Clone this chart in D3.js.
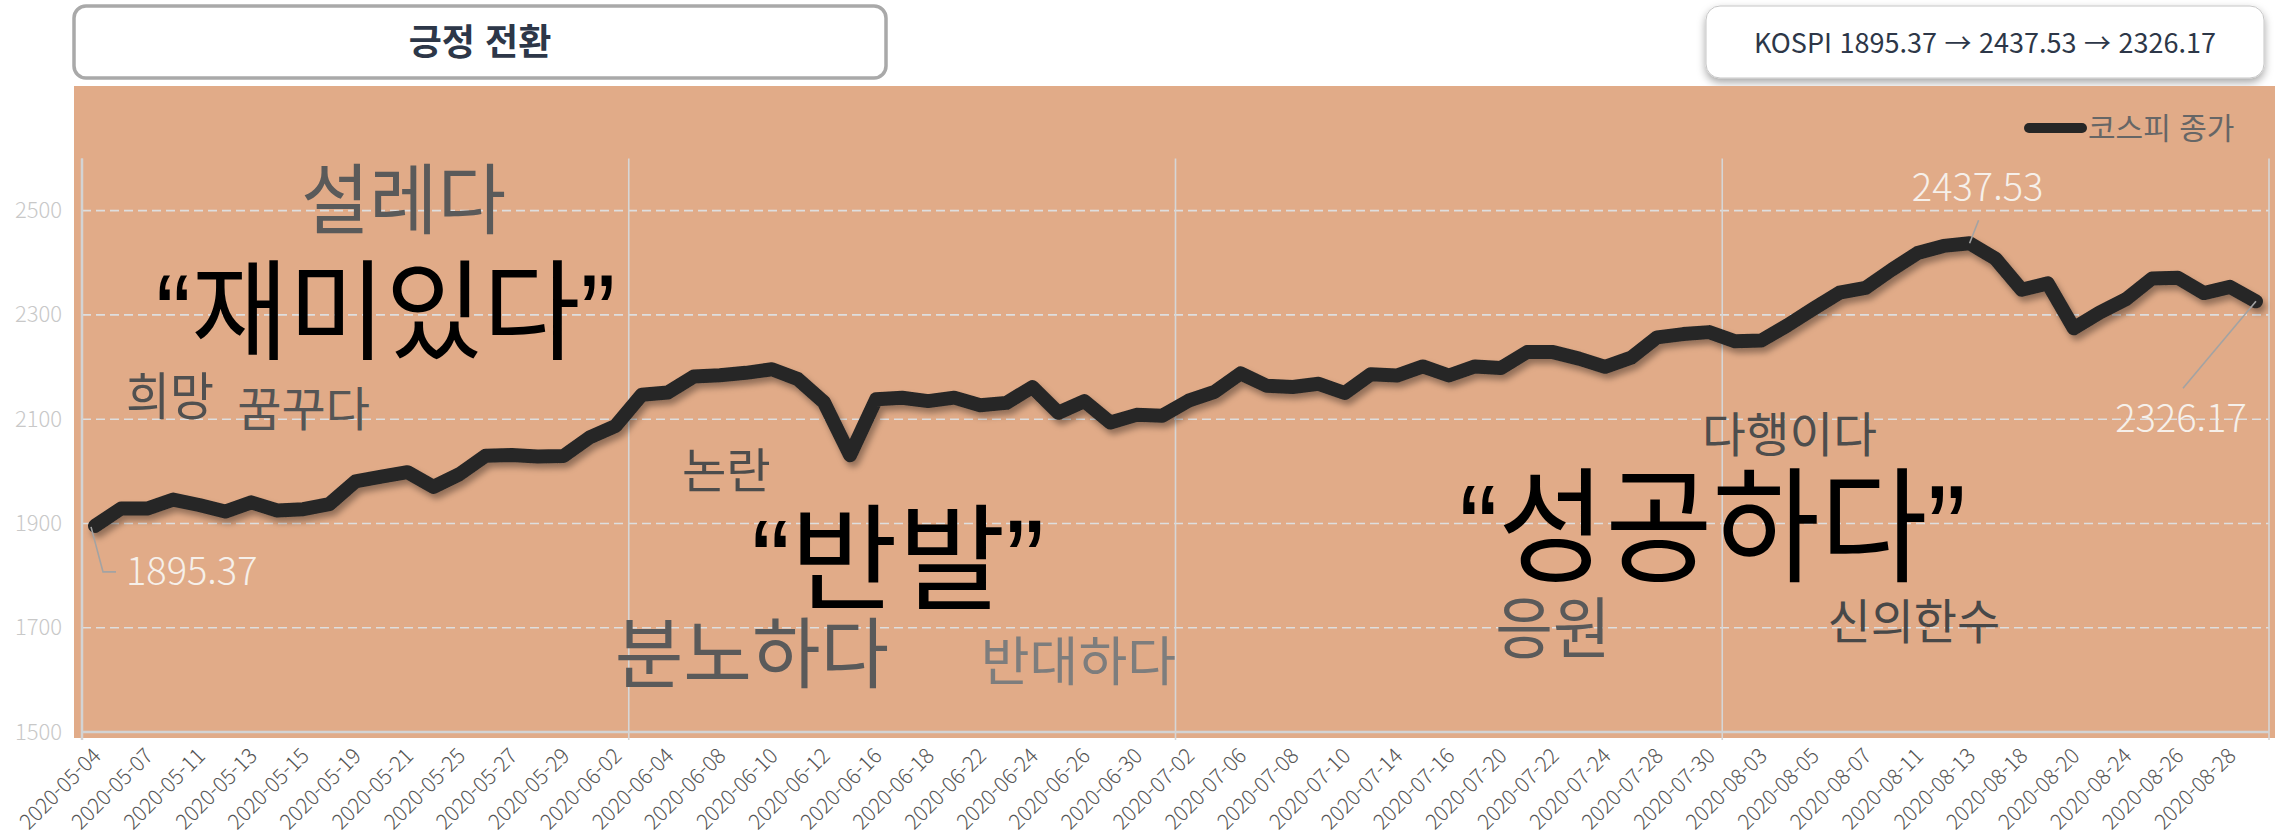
<!DOCTYPE html>
<html lang="ko">
<head>
<meta charset="utf-8">
<title>긍정 전환 - 코스피 종가</title>
<script src="https://cdn.jsdelivr.net/npm/d3@7"></script>
<style>
  html, body { margin: 0; padding: 0; background: #ffffff; }
  svg { display: block; }
</style>
</head>
<body>
<script>
// ---- Data ---------------------------------------------------------------
// KOSPI trading days, 2020-05-04 .. 2020-08-31
const dates = [
  '2020-05-04','2020-05-06','2020-05-07','2020-05-08','2020-05-11','2020-05-12','2020-05-13','2020-05-14','2020-05-15','2020-05-18',
  '2020-05-19','2020-05-20','2020-05-21','2020-05-22','2020-05-25','2020-05-26','2020-05-27','2020-05-28','2020-05-29',
  '2020-06-01','2020-06-02','2020-06-03','2020-06-04','2020-06-05','2020-06-08','2020-06-09','2020-06-10','2020-06-11','2020-06-12',
  '2020-06-15','2020-06-16','2020-06-17','2020-06-18','2020-06-19','2020-06-22','2020-06-23','2020-06-24','2020-06-25','2020-06-26',
  '2020-06-29','2020-06-30',
  '2020-07-01','2020-07-02','2020-07-03','2020-07-06','2020-07-07','2020-07-08','2020-07-09','2020-07-10','2020-07-13','2020-07-14',
  '2020-07-15','2020-07-16','2020-07-17','2020-07-20','2020-07-21','2020-07-22','2020-07-23','2020-07-24','2020-07-27','2020-07-28',
  '2020-07-29','2020-07-30','2020-07-31',
  '2020-08-03','2020-08-04','2020-08-05','2020-08-06','2020-08-07','2020-08-10','2020-08-11','2020-08-12','2020-08-13','2020-08-14',
  '2020-08-18','2020-08-19','2020-08-20','2020-08-21','2020-08-24','2020-08-25','2020-08-26','2020-08-27','2020-08-28','2020-08-31'
];

// KOSPI close
const closes = [
  1895.37, 1928.76, 1928.61, 1945.82, 1935.40, 1922.77, 1940.42, 1924.96, 1927.28, 1937.11,
  1980.61, 1989.64, 1998.31, 1970.13, 1994.60, 2029.78, 2031.20, 2028.54, 2029.60,
  2065.08, 2087.19, 2147.00, 2151.18, 2181.87, 2184.29, 2188.92, 2195.69, 2176.78, 2132.30,
  2030.82, 2138.05, 2141.05, 2134.65, 2141.32, 2126.73, 2131.24, 2161.51, 2112.37, 2134.65,
  2093.48, 2108.33,
  2106.70, 2135.37, 2152.41, 2187.93, 2164.17, 2161.78, 2167.90, 2150.25, 2186.06, 2183.61,
  2201.19, 2183.76, 2201.19, 2198.20, 2228.66, 2228.64, 2216.15, 2200.44, 2217.86, 2256.99,
  2263.24, 2267.01, 2249.37,
  2251.04, 2279.97, 2311.86, 2342.61, 2351.67, 2386.38, 2418.67, 2432.35, 2437.53, 2407.49,
  2348.24, 2360.54, 2274.22, 2304.59, 2329.83, 2369.62, 2371.21, 2341.84, 2353.80, 2326.17
];

const yTicks = [1500, 1700, 1900, 2100, 2300, 2500];
const seriesName = '코스피 종가';
const titleText = '긍정 전환';

// first / peak / last closes that get a value label
const markedIndex = [0, 72, 83];

// sentiment words of the period
const words = ['설레다', '“재미있다”', '희망', '꿈꾸다', '논란', '“반발”', '분노하다', '반대하다',
               '다행이다', '“성공하다”', '응원', '신의한수'];

// ---- Layout & style ---------------------------------------------------
const W = 2275, H = 839;
const plot = { left: 82, right: 2269, top: 158.5, bottom: 732 };
const panel = { x: 74, y: 86, w: 2201, h: 652, fill: '#e1ab88' };
const KR = '"Noto Sans CJK KR", "Noto Sans", sans-serif';
const QUOTE_FONT = '"Liberation Sans", Arial, sans-serif';

// word placement: anchor in (trading-day index, index level) space
const wordStyle = [
  { i: 11.85, v: 2523, size: 77,  width: 199, color: '#5a5a5a' },
  { i: 11.16, v: 2309, size: 109, width: 451, color: '#000000' },
  { i: 2.88,  v: 2144, size: 51,  width: 84,  color: '#505050' },
  { i: 8.01,  v: 2121, size: 47,  width: 129, color: '#555555' },
  { i: 24.25, v: 2002, size: 48,  width: 85,  color: '#4c4c4c' },
  { i: 30.84, v: 1834, size: 116, width: 284, color: '#000000' },
  { i: 25.23, v: 1651, size: 77,  width: 268, color: '#5a5a5a' },
  { i: 37.77, v: 1636, size: 53,  width: 191, color: '#7d7d7d' },
  { i: 65.08, v: 2071, size: 48,  width: 171, color: '#4d4d4d' },
  { i: 62.13, v: 1897, size: 125, width: 497, color: '#000000' },
  { i: 56.0,  v: 1700, size: 67,  width: 110, color: '#5a5a5a' },
  { i: 69.86, v: 1712, size: 48,  width: 169, color: '#484848' }
];

// leader line (relative to the point) and label offset for each marked close
const markStyle = [
  { path: [[-4, 1], [8, 46], [21, 46]], label: [31, 59], anchor: 'start' },
  { path: [[0, 0], [9, -23]],           label: [8, -42], anchor: 'middle' },
  { path: [[0, 0], [-73, 87]],          label: [-75, 131], anchor: 'middle' }
];

// ---- Scales -------------------------------------------------------------
const n = dates.length;
const x = d3.scaleBand().domain(dates).range([plot.left, plot.right]).paddingInner(0).paddingOuter(0);
const xIdx = d3.scaleLinear().domain([-0.5, n - 0.5]).range([plot.left, plot.right]);
const y = d3.scaleLinear().domain([1500, 2600]).range([plot.bottom, plot.top]);

const svg = d3.select('body').append('svg')
  .attr('width', W).attr('height', H)
  .attr('viewBox', `0 0 ${W} ${H}`);

const defs = svg.append('defs');
const lineShadow = defs.append('filter').attr('id', 'lineShadow')
  .attr('x', '-5%').attr('y', '-20%').attr('width', '110%').attr('height', '140%');
lineShadow.append('feDropShadow')
  .attr('dx', 3).attr('dy', 5).attr('stdDeviation', 3)
  .attr('flood-color', '#000').attr('flood-opacity', 0.35);
const boxShadow = defs.append('filter').attr('id', 'boxShadow')
  .attr('x', '-10%').attr('y', '-30%').attr('width', '120%').attr('height', '170%');
boxShadow.append('feDropShadow')
  .attr('dx', 0).attr('dy', 4).attr('stdDeviation', 4)
  .attr('flood-color', '#000').attr('flood-opacity', 0.35);

// ---- Title boxes --------------------------------------------------------
svg.append('rect')
  .attr('x', 74).attr('y', 6).attr('width', 812).attr('height', 72).attr('rx', 12)
  .attr('fill', '#ffffff').attr('stroke', '#a9a9a9').attr('stroke-width', 3.5);
svg.append('text')
  .attr('x', 480).attr('y', 55)
  .attr('text-anchor', 'middle')
  .attr('font-family', KR).attr('font-weight', 700).attr('font-size', 36)
  .attr('fill', '#2d3748')
  .text(titleText);

svg.append('rect')
  .attr('x', 1706).attr('y', 6).attr('width', 558).attr('height', 72).attr('rx', 14)
  .attr('fill', '#ffffff').attr('stroke', '#c6c6c6').attr('stroke-width', 1)
  .attr('filter', 'url(#boxShadow)');
svg.append('text')
  .attr('x', 1985).attr('y', 52.5)
  .attr('text-anchor', 'middle')
  .attr('font-family', KR).attr('font-weight', 400).attr('font-size', 27)
  .attr('fill', '#2d3748')
  .text(`KOSPI ${markedIndex.map(i => closes[i].toFixed(2)).join(' → ')}`);

// ---- Plot panel & grid --------------------------------------------------
svg.append('rect')
  .attr('x', panel.x).attr('y', panel.y).attr('width', panel.w).attr('height', panel.h)
  .attr('fill', panel.fill);

const grid = svg.append('g');
grid.selectAll('line.h')
  .data(yTicks.filter(t => t > y.domain()[0]))
  .join('line')
  .attr('x1', plot.left).attr('x2', plot.right)
  .attr('y1', d => y(d)).attr('y2', d => y(d))
  .attr('stroke', '#dedede').attr('stroke-width', 1.6)
  .attr('stroke-dasharray', '9,5');

// separators every 21 trading days
const vGrid = d3.range(0, n + 1, 21);
grid.selectAll('line.v')
  .data(vGrid)
  .join('line')
  .attr('x1', d => xIdx(d - 0.5)).attr('x2', d => xIdx(d - 0.5))
  .attr('y1', plot.top).attr('y2', plot.bottom + 8)
  .attr('stroke', '#d6d6d6').attr('stroke-width', 1.6);

// axis lines
svg.append('line')
  .attr('x1', plot.left).attr('x2', plot.right)
  .attr('y1', plot.bottom).attr('y2', plot.bottom)
  .attr('stroke', '#d3d3d3').attr('stroke-width', 2.5);
svg.append('line')
  .attr('x1', plot.left).attr('x2', plot.left)
  .attr('y1', plot.top).attr('y2', plot.bottom + 8)
  .attr('stroke', '#d3d3d3').attr('stroke-width', 2.5);

// ---- Axes ---------------------------------------------------------------
const yAxis = svg.append('g')
  .attr('transform', `translate(${plot.left},0)`)
  .call(d3.axisLeft(y).tickValues(yTicks).tickFormat(d3.format('d')).tickSize(0).tickPadding(20));
yAxis.select('.domain').remove();
yAxis.selectAll('text')
  .attr('font-family', KR).attr('font-weight', 300).attr('font-size', 22)
  .attr('fill', '#c8c8c8');

const xAxis = svg.append('g')
  .attr('transform', `translate(0,${plot.bottom})`)
  .call(d3.axisBottom(x).tickValues(dates.filter((d, i) => i % 2 === 0)).tickSize(0).tickPadding(0));
xAxis.select('.domain').remove();
xAxis.selectAll('.tick text')
  .attr('font-family', KR).attr('font-weight', 300).attr('font-size', 21)
  .attr('fill', '#555555')
  .attr('text-anchor', 'end')
  .attr('dy', '0.35em')
  .attr('transform', 'translate(2,20) rotate(-45)');

// ---- Words --------------------------------------------------------------
const wordG = svg.append('g');
const wordText = wordG.selectAll('text')
  .data(words.map((w, k) => ({ text: w, ...wordStyle[k] })))
  .join('text')
  .attr('x', d => xIdx(d.i))
  .attr('y', d => y(d.v) + 0.375 * d.size)
  .attr('text-anchor', 'middle')
  .attr('font-family', KR).attr('font-weight', 400)
  .attr('font-size', d => d.size)
  .attr('fill', d => d.color)
  .attr('textLength', d => d.width + 0.08 * d.size)
  .attr('lengthAdjust', 'spacingAndGlyphs');

// split quoted words so the quote marks use slanted Latin glyphs
wordText.each(function (d) {
  const parts = d.text.match(/^(“?)(.*?)(”?)$/);
  const t = d3.select(this);
  if (parts[1]) t.append('tspan').attr('font-family', QUOTE_FONT).text(parts[1]);
  t.append('tspan').text(parts[2]);
  if (parts[3]) t.append('tspan').attr('font-family', QUOTE_FONT).text(parts[3]);
});

// ---- Line ---------------------------------------------------------------
const cx = d => x(d) + x.bandwidth() / 2;
const line = d3.line()
  .x((v, i) => cx(dates[i]))
  .y(v => y(v));

svg.append('path')
  .datum(closes)
  .attr('d', line)
  .attr('fill', 'none')
  .attr('stroke', '#262626')
  .attr('stroke-width', 14)
  .attr('stroke-linejoin', 'round')
  .attr('stroke-linecap', 'round')
  .attr('filter', 'url(#lineShadow)');

// ---- Value labels -------------------------------------------------------
const marks = svg.append('g');
markedIndex.forEach((idx, k) => {
  const px = cx(dates[idx]), py = y(closes[idx]);
  const st = markStyle[k];
  marks.append('path')
    .attr('d', d3.line()(st.path.map(([dx, dy]) => [px + dx, py + dy])))
    .attr('fill', 'none').attr('stroke', '#a3a3a3').attr('stroke-width', 1.6);
  marks.append('text')
    .attr('x', px + st.label[0]).attr('y', py + st.label[1])
    .attr('text-anchor', st.anchor)
    .attr('font-family', KR).attr('font-weight', 300).attr('font-size', 38)
    .attr('fill', '#f6f0ea')
    .text(closes[idx].toFixed(2));
});

// ---- Legend -------------------------------------------------------------
const legend = svg.append('g');
legend.append('line')
  .attr('x1', 2029).attr('x2', 2082).attr('y1', 128).attr('y2', 128)
  .attr('stroke', '#262626').attr('stroke-width', 10).attr('stroke-linecap', 'round');
legend.append('text')
  .attr('x', 2088).attr('y', 139)
  .attr('font-family', KR).attr('font-weight', 400).attr('font-size', 30)
  .attr('fill', '#666666')
  .text(seriesName);
</script>
</body>
</html>
